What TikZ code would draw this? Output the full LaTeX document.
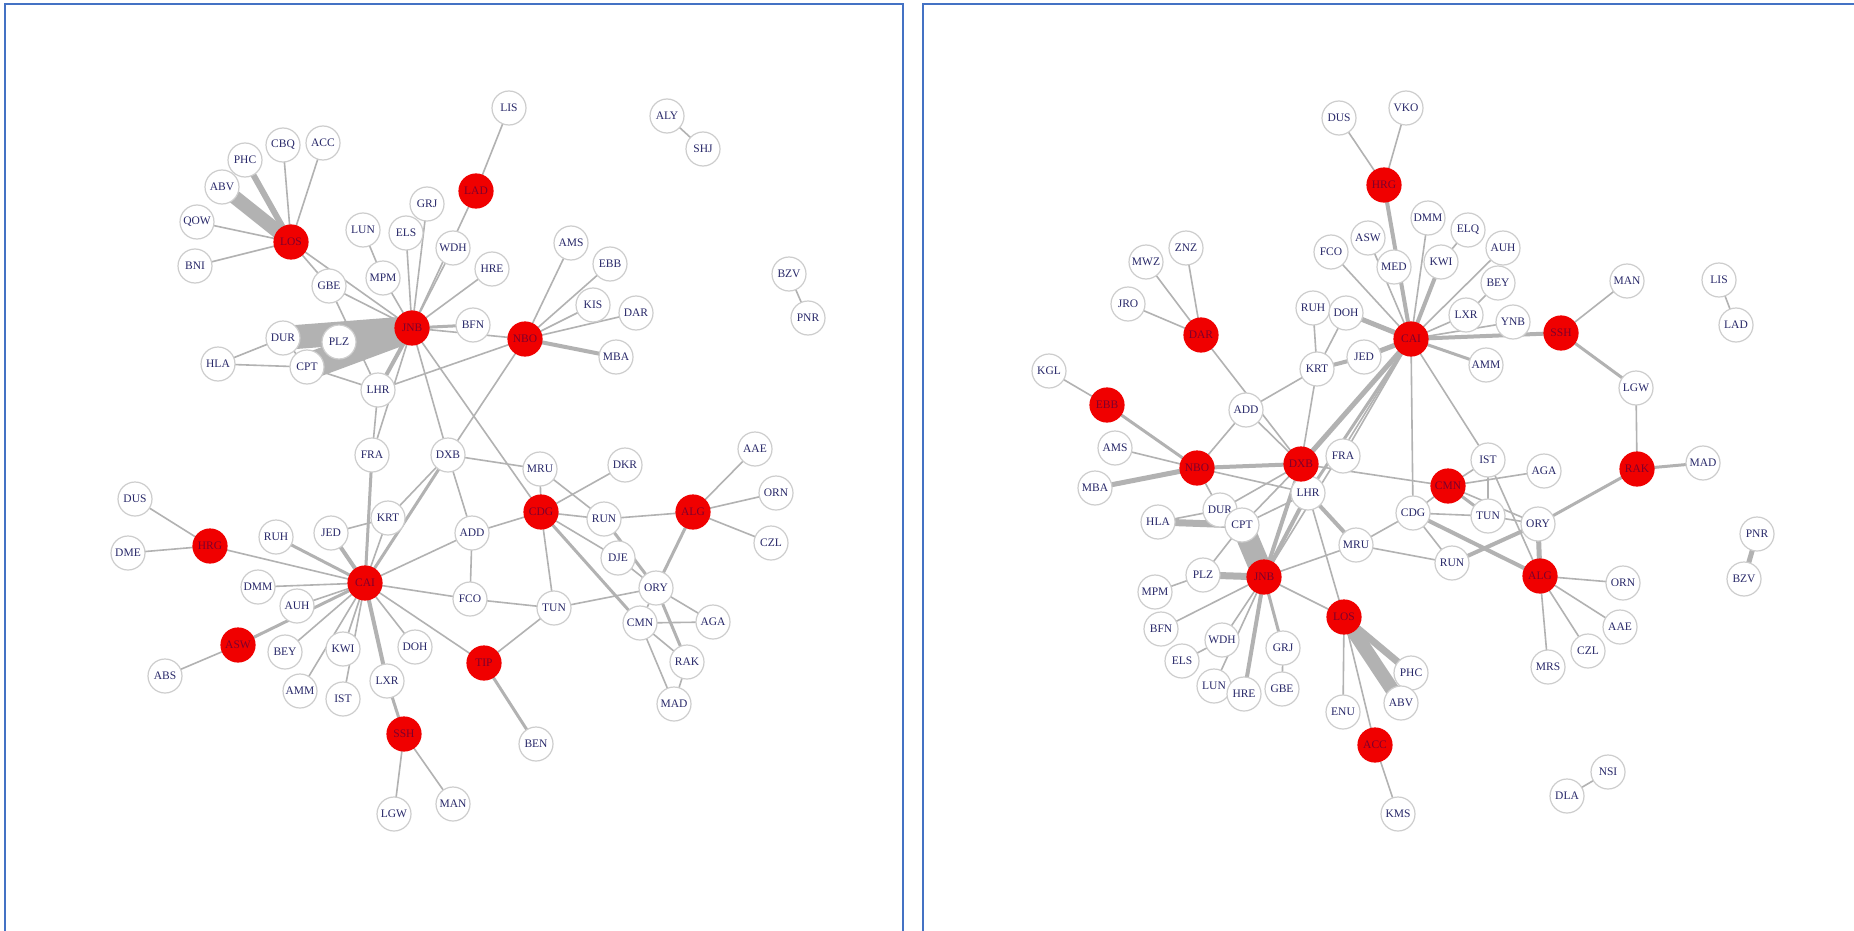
\documentclass[tikz,border=0pt]{standalone}
\usepackage{fontspec}
\setmainfont{Liberation Serif}
\pgfdeclarelayer{bg}
\pgfsetlayers{bg,main}
\definecolor{edgec}{RGB}{178,178,178}
\definecolor{nodeb}{RGB}{205,205,205}
\definecolor{txt}{RGB}{40,40,105}
\definecolor{hub}{RGB}{240,0,0}
\definecolor{hubtxt}{RGB}{125,0,45}
\definecolor{framec}{RGB}{68,114,196}
\tikzset{
  wn/.style={circle, draw=nodeb, line width=1.2pt, fill=white, minimum size=34pt, inner sep=0pt, text=txt, font=\fontsize{11.5}{12}\selectfont},
  rn/.style={wn, draw=hub, fill=hub, text=hubtxt},
  e/.style={draw=edgec, line width=1.6pt, line cap=butt},
  panelframe/.style={draw=framec, line width=2pt}
}
\newcommand\drawedges[3]{\foreach \ea/\eb in {#3} \draw[e, line width=#2] (#1\ea.center) -- (#1\eb.center);}
\begin{document}
\begin{tikzpicture}[x=1pt,y=-1pt]
\useasboundingbox (0,0) rectangle (1854,931);
\draw[panelframe] (5,940) -- (5,4) -- (903,4) -- (903,940);
\draw[panelframe] (923,940) -- (923,4) -- (1860,4);
% ---------------- left panel nodes
\foreach \n/\x/\y in {LIS/509/108, ALY/667/116, SHJ/703/149, CBQ/283/145, ACC/323/143, PHC/245/160, ABV/222/187, QOW/197/222, BNI/195/266, GRJ/427/204, LUN/363/230, ELS/406/233, WDH/453/248, HRE/492/269, MPM/383/278, GBE/329/286, BFN/473/325, DUR/283/338, PLZ/339/342, HLA/218/364, CPT/307/367, LHR/378/390, AMS/571/243, EBB/610/264, KIS/593/305, DAR/636/313, MBA/616/357, BZV/789/274, PNR/808/318, FRA/372/455, DXB/448/455, DUS/135/499, DME/128/553, RUH/276/537, JED/331/533, KRT/388/518, ADD/472/533, DMM/258/587, AUH/297/606, FCO/470/599, BEY/285/652, KWI/343/649, DOH/415/647, MRU/540/469, DKR/625/465, RUN/604/519, AAE/755/449, ORN/776/493, CZL/771/543, DJE/618/558, ORY/656/588, TUN/554/608, CMN/640/623, AGA/713/622, RAK/687/662, ABS/165/676, AMM/300/691, IST/343/699, LXR/387/681, LGW/394/814, MAN/453/804, BEN/536/744, MAD/674/704}
  \node[wn] (l\n) at (\x,\y) {\n};
\foreach \n/\x/\y in {LOS/291/242, LAD/476/191, JNB/412/328, NBO/525/339, HRG/210/546, CAI/365/583, ASW/238/645, TIP/484/663, CDG/541/512, ALG/693/512, SSH/404/734}
  \node[rn] (l\n) at (\x,\y) {\n};
% ---------------- right panel nodes
\foreach \n/\x/\y in {DUS/1339/118, VKO/1406/108, ZNZ/1186/248, MWZ/1146/262, JRO/1128/304, KGL/1049/371, FCO/1331/252, ASW/1368/238, MED/1394/267, RUH/1313/308, DOH/1346/313, JED/1364/357, KRT/1317/369, DMM/1428/218, ELQ/1468/230, KWI/1441/262, AUH/1503/248, BEY/1498/283, LXR/1466/315, YNB/1513/322, MAN/1627/281, AMM/1486/365, LGW/1636/388, LIS/1719/280, LAD/1736/325, ADD/1246/410, AMS/1115/448, FRA/1343/456, MBA/1095/488, LHR/1308/493, DUR/1220/510, HLA/1158/522, CPT/1242/525, MRU/1356/545, PLZ/1203/575, MPM/1155/592, BFN/1161/629, WDH/1222/640, GRJ/1283/648, ELS/1182/661, IST/1488/460, AGA/1544/471, MAD/1703/463, CDG/1413/513, TUN/1488/516, ORY/1538/524, RUN/1452/563, ORN/1623/583, PNR/1757/534, BZV/1744/579, AAE/1620/627, CZL/1588/651, MRS/1548/667, PHC/1411/673, LUN/1214/686, HRE/1244/694, GBE/1282/689, ENU/1343/712, ABV/1401/703, KMS/1398/814, DLA/1567/796, NSI/1608/772}
  \node[wn] (r\n) at (\x,\y) {\n};
\foreach \n/\x/\y in {HRG/1384/185, DAR/1201/335, CAI/1411/339, SSH/1561/333, EBB/1107/405, NBO/1197/468, DXB/1301/464, JNB/1264/577, LOS/1344/617, RAK/1637/469, CMN/1448/486, ALG/1540/576, ACC/1375/745}
  \node[rn] (r\n) at (\x,\y) {\n};
% ---------------- edges
\begin{pgfonlayer}{bg}
\fill[white] (0,0) rectangle (1854,931);
% left
\drawedges{l}{24pt}{JNB/DUR}
\drawedges{l}{27pt}{JNB/CPT}
\drawedges{l}{14pt}{LOS/ABV}
\drawedges{l}{6pt}{LOS/PHC}
\drawedges{l}{4pt}{JNB/LHR, CAI/LXR, NBO/MBA, CAI/JED}
\drawedges{l}{3pt}{CAI/FRA, CAI/DXB, CAI/RUH, CAI/ASW, LXR/SSH, TIP/BEN, CDG/CMN, RUN/ORY, ALG/ORY, ORY/RAK, JNB/BFN}
\drawedges{l}{1.6pt}{LAD/LIS, ALY/SHJ, BZV/PNR, LOS/CBQ, LOS/ACC, LOS/QOW, LOS/BNI, LOS/GBE, LOS/JNB, LAD/JNB, JNB/GRJ, JNB/ELS, JNB/MPM, MPM/LUN, JNB/WDH, JNB/HRE, JNB/NBO, JNB/GBE, GBE/LHR, HLA/DUR, HLA/CPT, DUR/CPT, CPT/LHR, JNB/FRA, LHR/FRA, LHR/NBO, JNB/DXB, JNB/CDG, NBO/AMS, NBO/EBB, NBO/KIS, NBO/DAR, NBO/DXB, DXB/MRU, DXB/ADD, DXB/KRT, HRG/DUS, HRG/DME, HRG/CAI, CAI/KRT, KRT/JED, CAI/ADD, CAI/FCO, CAI/TIP, CAI/DOH, CAI/IST, CAI/KWI, CAI/AMM, CAI/BEY, CAI/AUH, CAI/DMM, ASW/ABS, SSH/LGW, SSH/MAN, ADD/FCO, ADD/CDG, FCO/TUN, TUN/CDG, TUN/ORY, TUN/TIP, CDG/MRU, CDG/DKR, CDG/RUN, CDG/DJE, MRU/RUN, RUN/ALG, ALG/AAE, ALG/ORN, ALG/CZL, DJE/ORY, ORY/AGA, CMN/AGA, CMN/RAK, CMN/MAD, RAK/MAD, ORY/CMN}
% right
\drawedges{r}{22pt}{JNB/CPT}
\drawedges{r}{14pt}{LOS/ABV}
\drawedges{r}{7pt}{LOS/PHC, HLA/CPT, JNB/PLZ}
\drawedges{r}{5pt}{CAI/DOH, CAI/JED, CAI/DXB, MBA/NBO, ORY/ALG, PNR/BZV}
\drawedges{r}{4pt}{HRG/CAI, CAI/KWI, CAI/SSH, KRT/JED, NBO/DXB, DXB/JNB, LHR/JNB, LHR/MRU, JNB/HRE, CDG/ALG, ORY/RUN}
\drawedges{r}{3pt}{CAI/AMM, SSH/LGW, RAK/MAD, RAK/ORY, EBB/NBO, JNB/GRJ, CMN/TUN, CAI/LHR}
\drawedges{r}{1.6pt}{HRG/DUS, HRG/VKO, ASW/CAI, FCO/CAI, CAI/DMM, KWI/ELQ, CAI/AUH, LXR/BEY, CAI/LXR, CAI/YNB, RUH/KRT, DOH/KRT, KRT/ADD, KRT/DXB, CAI/FRA, CAI/JNB, CAI/CDG, CAI/IST, SSH/MAN, LGW/RAK, DAR/ZNZ, DAR/MWZ, DAR/JRO, DAR/DXB, KGL/EBB, AMS/NBO, NBO/ADD, NBO/DUR, NBO/LHR, ADD/DXB, DXB/CMN, DXB/LHR, DXB/CPT, DXB/DUR, LHR/CPT, LHR/LOS, JNB/MRU, JNB/LOS, PLZ/CPT, PLZ/MPM, JNB/BFN, JNB/WDH, WDH/ELS, JNB/LUN, GRJ/GBE, HLA/DUR, DUR/CPT, LOS/ENU, LOS/ACC, ACC/KMS, MRU/CDG, MRU/RUN, CDG/CMN, CDG/TUN, CDG/RUN, CMN/IST, CMN/AGA, CMN/ORY, IST/TUN, IST/ALG, TUN/ORY, ALG/ORN, ALG/AAE, ALG/CZL, ALG/MRS, LIS/LAD, DLA/NSI}
\end{pgfonlayer}
\end{tikzpicture}
\end{document}
